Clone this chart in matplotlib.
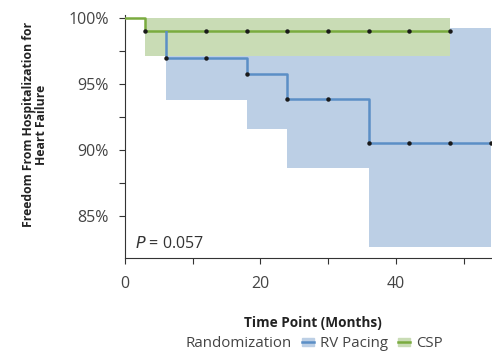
import matplotlib.pyplot as plt
from matplotlib.patches import Patch, Rectangle
from matplotlib.lines import Line2D

plt.rcParams['font.family'] = ['Open Sans', 'DejaVu Sans']

# RV Pacing: step times, survival (%), CI lower/upper
rv_t = [0, 6, 18, 24, 36, 54]
rv_s = [100, 97.0, 95.76, 93.86, 90.51, 90.51]
rv_lo = [100, 93.76, 91.57, 88.64, 82.63, 82.63]
rv_hi = [100, 99.22, 99.22, 99.22, 99.22, 99.22]
rv_marks = [6, 12, 18, 24, 30, 36, 42, 48, 54]

# CSP
csp_t = [0, 3, 48]
csp_s = [100, 99.0, 99.0]
csp_lo = [100, 97.12, 97.12]
csp_hi = [100, 100, 100]
csp_marks = [3, 12, 18, 24, 30, 36, 42, 48]

blue_line = '#5b8fc6'
blue_fill = '#bccfe5'
green_line = '#7aab3f'
green_fill = '#c9dcb5'

fig = plt.figure(figsize=(4.92, 3.55), dpi=100)
ax = fig.add_axes([0.254, 0.274, 0.746, 0.683])

ax.fill_between(rv_t[1:], rv_lo[1:], rv_hi[1:], step='post', color=blue_fill, lw=0, zorder=1)
ax.fill_between(csp_t[1:], csp_lo[1:], csp_hi[1:], step='post', color=green_fill, lw=0, zorder=2)
ax.step(csp_t, csp_s, where='post', color=green_line, lw=1.8, zorder=3)

# blue curve only shows below the CSP line
rv_line, = ax.step(rv_t, rv_s, where='post', color=blue_line, lw=1.8, zorder=4)
clip = Rectangle((0, 80), 60, csp_s[1] - 80, transform=ax.transData)
rv_line.set_clip_path(clip)


def surv_at(ts, ss, x):
    v = ss[0]
    for t, s in zip(ts, ss):
        if x >= t:
            v = s
    return v


ax.plot(csp_marks, [surv_at(csp_t, csp_s, m) for m in csp_marks], 'o', color='#1a1a1a', ms=2.2, zorder=5)
ax.plot(rv_marks, [surv_at(rv_t, rv_s, m) for m in rv_marks], 'o', color='#1a1a1a', ms=2.2, zorder=5,
        clip_on=False)

ax.set_xlim(0, 54.2)
ax.set_ylim(81.84, 100.2)
ax.set_xticks([0, 20, 40])
ax.set_xticks([10, 30, 50], minor=True)
ax.set_yticks([85, 90, 95, 100])
ax.set_yticklabels(['85%', '90%', '95%', '100%'])
ax.set_yticks([87.5, 92.5, 97.5], minor=True)
ax.tick_params(which='both', length=4.5, width=0.8, color='#333333', labelsize=11.5, labelcolor='#444444')
ax.tick_params(axis='y', which='both', pad=7)
ax.tick_params(axis='x', which='both', pad=9)

for s in ['top', 'right']:
    ax.spines[s].set_visible(False)
for s in ['left', 'bottom']:
    ax.spines[s].set_color('#333333')
    ax.spines[s].set_linewidth(0.8)

ax.set_xlabel('Time Point (Months)', fontsize=9.8, fontweight='bold', color='#222222')
ax.xaxis.set_label_coords(0.512, -0.24)
ax.set_ylabel('Freedom From Hospitalization for\nHeart Failure', fontsize=8.8, fontweight='bold',
              color='#222222', linespacing=1.05)
ax.yaxis.set_label_coords(-0.209, 0.548)

ax.text(1.5, 82.6, '$P$ = 0.057', fontsize=11.5, color='#333333')

h_rv = (Patch(color=blue_fill), Line2D([], [], color=blue_line, lw=1.8))
h_csp = (Patch(color=green_fill), Line2D([], [], color=green_line, lw=1.8))
h_title = Line2D([], [], color='none')
fig.legend([h_title, h_rv, h_csp], ['Randomization', 'RV Pacing', 'CSP'],
           loc='center', bbox_to_anchor=(0.62, 0.032), ncol=3, frameon=False,
           fontsize=10.8, handlelength=0.8, handleheight=0.5, handletextpad=0.4,
           columnspacing=0.7, labelcolor='#444444')

fig.savefig('out.png', dpi=100)
